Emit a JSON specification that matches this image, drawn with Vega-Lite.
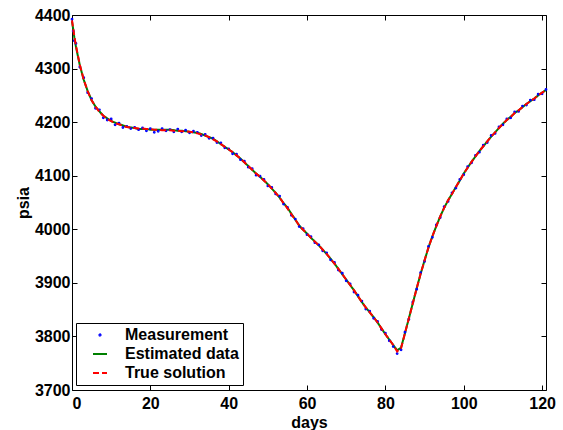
{
  "$schema": "https://vega.github.io/schema/vega-lite/v6.json",
  "width": 474,
  "height": 375,
  "autosize": {"type": "none"},
  "padding": {"left": 72, "top": 15, "right": 17, "bottom": 40},
  "config": {
    "view": {"stroke": "black", "strokeWidth": 1},
    "font": "Liberation Sans",
    "axis": {
      "labelFont": "Liberation Sans", "labelFontSize": 16, "labelFontWeight": "bold", "labelColor": "black",
      "titleFont": "Liberation Sans", "titleFontSize": 16, "titleFontWeight": "bold", "titleColor": "black",
      "grid": false, "domain": false, "tickColor": "black", "tickSize": -5, "tickWidth": 1, "format": "d"
    },
    "legend": {
      "orient": "none", "legendX": 4, "legendY": 308, "title": null,
      "strokeColor": "black", "fillColor": "white", "padding": 4, "cornerRadius": 0,
      "labelFont": "Liberation Sans", "labelFontSize": 16, "labelFontWeight": "bold", "labelColor": "black",
      "symbolSize": 196, "symbolOffset": 12, "labelOffset": 17, "rowPadding": 3,
      "symbolStrokeWidth": 2, "symbolOpacity": 1
    }
  },
  "data": {"values": [
    {"day": 0, "true": 4390, "est": 4388, "meas": 4392},
    {"day": 0.3, "true": 4375, "est": 4374, "meas": 4370},
    {"day": 0.6, "true": 4360, "est": 4358, "meas": 4352},
    {"day": 1, "true": 4343, "est": 4341, "meas": 4347},
    {"day": 2, "true": 4307, "est": 4306, "meas": 4303},
    {"day": 3, "true": 4279, "est": 4279, "meas": 4283},
    {"day": 4, "true": 4258, "est": 4258, "meas": 4255},
    {"day": 5, "true": 4241, "est": 4241, "meas": 4244},
    {"day": 6, "true": 4229, "est": 4229, "meas": 4226},
    {"day": 7, "true": 4219, "est": 4220, "meas": 4223},
    {"day": 8, "true": 4212, "est": 4212, "meas": 4208},
    {"day": 9, "true": 4206, "est": 4207, "meas": 4204},
    {"day": 10, "true": 4202, "est": 4202, "meas": 4206},
    {"day": 11, "true": 4198, "est": 4199, "meas": 4195},
    {"day": 12, "true": 4196, "est": 4196, "meas": 4198},
    {"day": 13, "true": 4193, "est": 4194, "meas": 4190},
    {"day": 14, "true": 4191, "est": 4191, "meas": 4192},
    {"day": 15, "true": 4190, "est": 4190, "meas": 4188},
    {"day": 16, "true": 4189, "est": 4189, "meas": 4190},
    {"day": 17, "true": 4188, "est": 4187, "meas": 4186},
    {"day": 18, "true": 4188, "est": 4187, "meas": 4189},
    {"day": 19, "true": 4187, "est": 4187, "meas": 4184},
    {"day": 20, "true": 4187, "est": 4186, "meas": 4188},
    {"day": 21, "true": 4186, "est": 4186, "meas": 4181},
    {"day": 22, "true": 4186, "est": 4186, "meas": 4183},
    {"day": 23, "true": 4185, "est": 4186, "meas": 4188},
    {"day": 24, "true": 4185, "est": 4186, "meas": 4184},
    {"day": 25, "true": 4185, "est": 4186, "meas": 4186},
    {"day": 26, "true": 4184, "est": 4185, "meas": 4182},
    {"day": 27, "true": 4184, "est": 4184, "meas": 4187},
    {"day": 28, "true": 4183, "est": 4184, "meas": 4182},
    {"day": 29, "true": 4183, "est": 4183, "meas": 4185},
    {"day": 30, "true": 4182, "est": 4182, "meas": 4180},
    {"day": 31, "true": 4181, "est": 4181, "meas": 4183},
    {"day": 32, "true": 4179, "est": 4180, "meas": 4181},
    {"day": 33, "true": 4177, "est": 4178, "meas": 4175},
    {"day": 34, "true": 4175, "est": 4175, "meas": 4177},
    {"day": 35, "true": 4172, "est": 4172, "meas": 4170},
    {"day": 36, "true": 4168, "est": 4169, "meas": 4170},
    {"day": 37, "true": 4164, "est": 4164, "meas": 4162},
    {"day": 38, "true": 4159, "est": 4159, "meas": 4161},
    {"day": 39, "true": 4154, "est": 4154, "meas": 4152},
    {"day": 40, "true": 4149, "est": 4149, "meas": 4150},
    {"day": 41, "true": 4144, "est": 4144, "meas": 4141},
    {"day": 42, "true": 4138, "est": 4138, "meas": 4140},
    {"day": 43, "true": 4132, "est": 4132, "meas": 4130},
    {"day": 44, "true": 4125, "est": 4125, "meas": 4127},
    {"day": 45, "true": 4118, "est": 4118, "meas": 4116},
    {"day": 46, "true": 4111, "est": 4111, "meas": 4113},
    {"day": 47, "true": 4104, "est": 4104, "meas": 4101},
    {"day": 48, "true": 4098, "est": 4098, "meas": 4099},
    {"day": 49, "true": 4091, "est": 4091, "meas": 4093},
    {"day": 50, "true": 4084, "est": 4084, "meas": 4081},
    {"day": 51, "true": 4076, "est": 4076, "meas": 4078},
    {"day": 52, "true": 4068, "est": 4068, "meas": 4066},
    {"day": 53, "true": 4059, "est": 4059, "meas": 4062},
    {"day": 54, "true": 4049, "est": 4049, "meas": 4047},
    {"day": 55, "true": 4039, "est": 4040, "meas": 4041},
    {"day": 56, "true": 4028, "est": 4029, "meas": 4026},
    {"day": 57, "true": 4018, "est": 4018, "meas": 4019},
    {"day": 58, "true": 4007, "est": 4007, "meas": 4005},
    {"day": 59, "true": 3999, "est": 3999, "meas": 4001},
    {"day": 60, "true": 3992, "est": 3992, "meas": 3990},
    {"day": 61, "true": 3984, "est": 3984, "meas": 3986},
    {"day": 62, "true": 3977, "est": 3977, "meas": 3975},
    {"day": 63, "true": 3970, "est": 3970, "meas": 3971},
    {"day": 64, "true": 3962, "est": 3962, "meas": 3960},
    {"day": 65, "true": 3954, "est": 3954, "meas": 3956},
    {"day": 66, "true": 3945, "est": 3945, "meas": 3943},
    {"day": 67, "true": 3936, "est": 3936, "meas": 3938},
    {"day": 68, "true": 3926, "est": 3926, "meas": 3924},
    {"day": 69, "true": 3916, "est": 3916, "meas": 3918},
    {"day": 70, "true": 3906, "est": 3906, "meas": 3904},
    {"day": 71, "true": 3896, "est": 3896, "meas": 3898},
    {"day": 72, "true": 3886, "est": 3886, "meas": 3883},
    {"day": 73, "true": 3875, "est": 3875, "meas": 3877},
    {"day": 74, "true": 3864, "est": 3864, "meas": 3866},
    {"day": 75, "true": 3854, "est": 3854, "meas": 3851},
    {"day": 76, "true": 3845, "est": 3845, "meas": 3847},
    {"day": 77, "true": 3836, "est": 3836, "meas": 3834},
    {"day": 78, "true": 3826, "est": 3826, "meas": 3828},
    {"day": 79, "true": 3815, "est": 3815, "meas": 3813},
    {"day": 80, "true": 3804, "est": 3804, "meas": 3806},
    {"day": 81, "true": 3794, "est": 3794, "meas": 3792},
    {"day": 82, "true": 3784, "est": 3784, "meas": 3781},
    {"day": 83, "true": 3772, "est": 3774, "meas": 3768},
    {"day": 84, "true": 3778, "est": 3779, "meas": 3775},
    {"day": 85, "true": 3806, "est": 3806, "meas": 3808},
    {"day": 86, "true": 3834, "est": 3834, "meas": 3832},
    {"day": 87, "true": 3862, "est": 3862, "meas": 3864},
    {"day": 88, "true": 3890, "est": 3890, "meas": 3888},
    {"day": 89, "true": 3917, "est": 3917, "meas": 3919},
    {"day": 90, "true": 3942, "est": 3942, "meas": 3940},
    {"day": 91, "true": 3966, "est": 3966, "meas": 3968},
    {"day": 92, "true": 3987, "est": 3987, "meas": 3985},
    {"day": 93, "true": 4006, "est": 4006, "meas": 4008},
    {"day": 94, "true": 4024, "est": 4024, "meas": 4022},
    {"day": 95, "true": 4040, "est": 4040, "meas": 4042},
    {"day": 96, "true": 4054, "est": 4054, "meas": 4052},
    {"day": 97, "true": 4066, "est": 4066, "meas": 4068},
    {"day": 98, "true": 4079, "est": 4079, "meas": 4077},
    {"day": 99, "true": 4091, "est": 4091, "meas": 4093},
    {"day": 100, "true": 4104, "est": 4104, "meas": 4102},
    {"day": 101, "true": 4115, "est": 4115, "meas": 4117},
    {"day": 102, "true": 4126, "est": 4126, "meas": 4124},
    {"day": 103, "true": 4136, "est": 4136, "meas": 4138},
    {"day": 104, "true": 4146, "est": 4146, "meas": 4144},
    {"day": 105, "true": 4155, "est": 4155, "meas": 4157},
    {"day": 106, "true": 4164, "est": 4164, "meas": 4162},
    {"day": 107, "true": 4173, "est": 4173, "meas": 4175},
    {"day": 108, "true": 4181, "est": 4181, "meas": 4179},
    {"day": 109, "true": 4189, "est": 4189, "meas": 4191},
    {"day": 110, "true": 4197, "est": 4197, "meas": 4195},
    {"day": 111, "true": 4204, "est": 4204, "meas": 4206},
    {"day": 112, "true": 4210, "est": 4210, "meas": 4208},
    {"day": 113, "true": 4217, "est": 4217, "meas": 4219},
    {"day": 114, "true": 4222, "est": 4222, "meas": 4220},
    {"day": 115, "true": 4228, "est": 4228, "meas": 4230},
    {"day": 116, "true": 4234, "est": 4234, "meas": 4232},
    {"day": 117, "true": 4239, "est": 4239, "meas": 4241},
    {"day": 118, "true": 4244, "est": 4244, "meas": 4242},
    {"day": 119, "true": 4250, "est": 4250, "meas": 4252},
    {"day": 120, "true": 4255, "est": 4255, "meas": 4253},
    {"day": 121, "true": 4260, "est": 4260, "meas": 4261}
  ]},
  "layer": [
    {
      "mark": {"type": "line", "strokeWidth": 2},
      "encoding": {
        "x": {"field": "day", "type": "quantitative", "scale": {"domain": [0, 121], "nice": false},
              "axis": {"values": [0, 20, 40, 60, 80, 100, 120], "title": "days", "labelPadding": 10, "titlePadding": 3}},
        "y": {"field": "est", "type": "quantitative", "scale": {"domain": [3700, 4400], "nice": false, "zero": false},
              "axis": {"values": [3700, 3800, 3900, 4000, 4100, 4200, 4300, 4400], "title": "psia", "labelPadding": 7, "titlePadding": 3}},
        "color": {
          "datum": "Estimated data", "type": "nominal",
          "scale": {"domain": ["Measurement", "Estimated data", "True solution"], "range": ["#0000ff", "#008000", "#ff0000"]}
        },
        "strokeDash": {
          "datum": "Estimated data", "type": "nominal",
          "scale": {"domain": ["Measurement", "Estimated data", "True solution"], "range": [[1, 0], [1, 0], [6, 3]]}
        }
      }
    },
    {
      "mark": {"type": "point", "filled": false, "strokeWidth": 1.6, "size": 196, "opacity": 1},
      "encoding": {
        "x": {"field": "day", "type": "quantitative", "scale": {"domain": [0, 121], "nice": false}, "axis": null},
        "y": {"field": "meas", "type": "quantitative", "scale": {"domain": [3700, 4400], "nice": false, "zero": false}, "axis": null},
        "color": {"datum": "Measurement", "type": "nominal"},
        "shape": {
          "datum": "Measurement", "type": "nominal",
          "scale": {"domain": ["Measurement", "Estimated data", "True solution"],
                    "range": ["M-0.09,0A0.09,0.09 0 1,0 0.09,0A0.09,0.09 0 1,0 -0.09,0", "M-1,0H1", "M-1,0H1"]}
        }
      }
    },
    {
      "mark": {"type": "line", "strokeWidth": 2},
      "encoding": {
        "x": {"field": "day", "type": "quantitative", "scale": {"domain": [0, 121], "nice": false},
              "axis": {"orient": "top", "values": [0, 20, 40, 60, 80, 100, 120], "labels": false, "title": null}},
        "y": {"field": "true", "type": "quantitative", "scale": {"domain": [3700, 4400], "nice": false, "zero": false},
              "axis": {"orient": "right", "values": [3700, 3800, 3900, 4000, 4100, 4200, 4300, 4400], "labels": false, "title": null}},
        "color": {"datum": "True solution", "type": "nominal"},
        "strokeDash": {"datum": "True solution", "type": "nominal"}
      }
    }
  ],
  "resolve": {"scale": {"x": "independent", "y": "independent"}, "axis": {"x": "independent", "y": "independent"}}
}
